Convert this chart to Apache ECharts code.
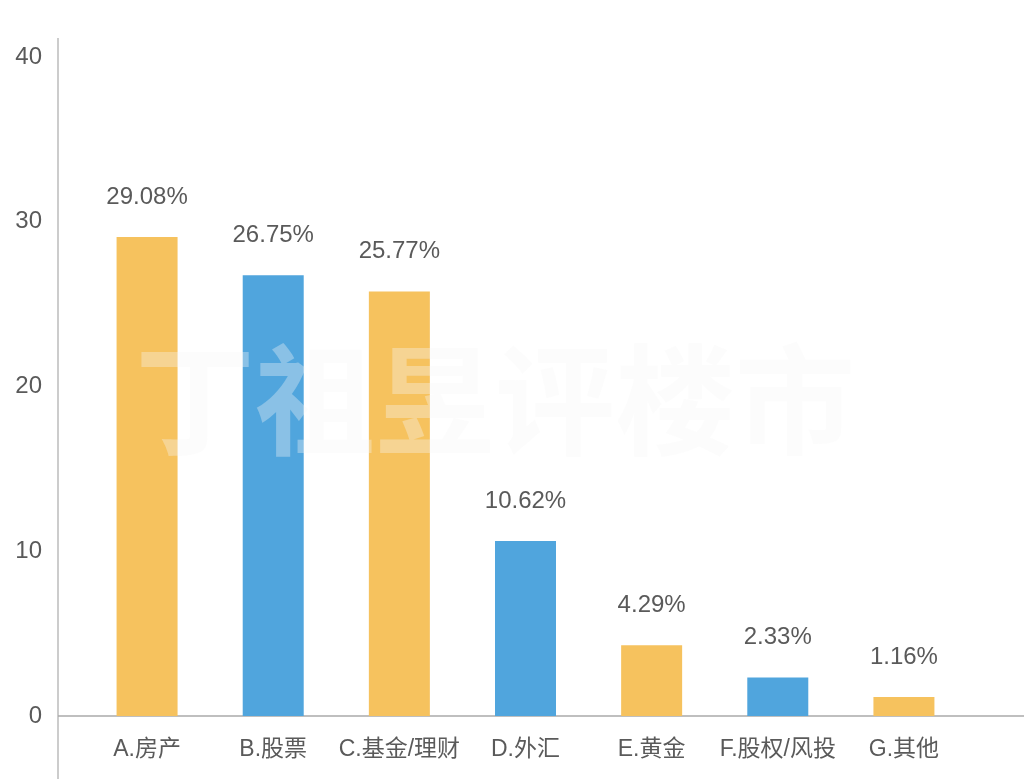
<!DOCTYPE html>
<html>
<head>
<meta charset="utf-8">
<script src="https://cdn.jsdelivr.net/npm/echarts@6/dist/echarts.min.js"></script>
<style>
html,body{margin:0;padding:0;background:#fff;}
#c{width:1024px;height:779px;}
</style>
</head>
<body>
<div id="c"></div>
<script>
var categories = ['A.房产', 'B.股票', 'C.基金/理财', 'D.外汇', 'E.黄金', 'F.股权/风投', 'G.其他'];
var shares = [29.08, 26.75, 25.77, 10.62, 4.29, 2.33, 1.16];
var yTicks = [0, 10, 20, 30, 40];
var barColors = ['#F6C25E', '#50A5DD'];

var FONT = "'Liberation Sans','Noto Sans CJK SC',sans-serif";
var chart = echarts.init(document.getElementById('c'), null, {renderer: 'canvas'});

var option = {
  backgroundColor: '#fff',
  animation: false,
  grid: {left: 84, right: 57, top: 57, bottom: 63},
  xAxis: {
    type: 'category',
    data: categories,
    axisLine: {show: false},
    axisTick: {show: false},
    axisLabel: {color: '#5a5a5a', fontSize: 23, margin: 22, fontFamily: FONT, interval: 0}
  },
  yAxis: {
    type: 'value',
    min: yTicks[0],
    max: yTicks[yTicks.length - 1],
    interval: 10,
    offset: 26,
    axisLine: {show: false},
    axisTick: {show: false},
    splitLine: {show: false},
    axisLabel: {color: '#5a5a5a', fontSize: 24, margin: 16, fontFamily: FONT}
  },
  series: [{
    type: 'bar',
    data: shares.map(function (v, i) {
      return {value: v, itemStyle: {color: barColors[i % 2]}};
    }),
    barWidth: 61,
    label: {
      show: true,
      position: 'top',
      distance: 28,
      color: '#5a5a5a',
      fontSize: 24,
      fontFamily: FONT,
      formatter: function (p) { return p.value.toFixed(2) + '%'; }
    },
    z: 2
  }]
};
chart.setOption(option);

var zeroY = chart.convertToPixel({yAxisIndex: 0}, 0);
var axisX = 58;
chart.setOption({
  graphic: [
    {type: 'line', shape: {x1: axisX, y1: 38, x2: axisX, y2: 779}, style: {stroke: '#bbb', lineWidth: 1.5}, z: 1},
    {type: 'line', shape: {x1: axisX, y1: zeroY, x2: 1024, y2: zeroY}, style: {stroke: '#aaa', lineWidth: 1.5}, z: 1},
    {type: 'text', left: 135, top: 340, z: 100, silent: true,
      style: {text: '丁祖昱评楼市', fontSize: 120, fontWeight: 'bold',
        fontFamily: "'Noto Sans CJK SC',sans-serif",
        fill: 'rgba(246,246,246,0.35)'}}
  ]
});
</script>
</body>
</html>
